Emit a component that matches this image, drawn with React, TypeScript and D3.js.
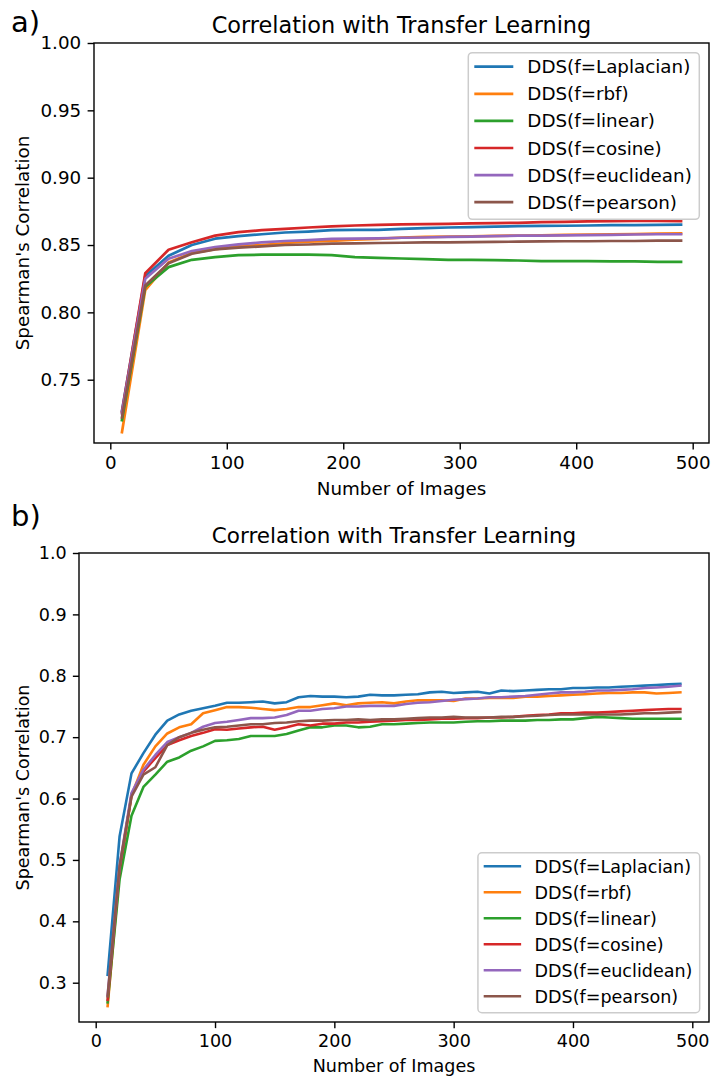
import React, { useEffect, useRef } from 'react';
import * as d3 from 'd3';

const seriesNames = [
  'DDS(f=Laplacian)',
  'DDS(f=rbf)',
  'DDS(f=linear)',
  'DDS(f=cosine)',
  'DDS(f=euclidean)',
  'DDS(f=pearson)',
];
const colors = ['#1f77b4', '#ff7f0e', '#2ca02c', '#d62728', '#9467bd', '#8c564b'];

// panel a) every 20 images
const imagesA = [10, 30, 50, 70, 90, 110, 130, 150, 170, 190, 210, 230, 250, 270, 290, 310, 330, 350, 370, 390, 410, 430, 450, 470, 490];
const laplacianA = [0.727, 0.827, 0.842, 0.850, 0.8547, 0.8566, 0.858, 0.8593, 0.860, 0.861, 0.8613, 0.8613, 0.862, 0.8625, 0.863, 0.8633, 0.8636, 0.864, 0.8642, 0.8643, 0.8645, 0.8647, 0.8648, 0.865, 0.8651];
const rbfA = [0.711, 0.8165, 0.837, 0.844, 0.847, 0.849, 0.850, 0.8515, 0.8525, 0.853, 0.854, 0.8545, 0.8555, 0.856, 0.8562, 0.8565, 0.8568, 0.857, 0.8572, 0.8575, 0.8578, 0.858, 0.8582, 0.8584, 0.8586];
const linearA = [0.720, 0.819, 0.8336, 0.839, 0.841, 0.8425, 0.8428, 0.8429, 0.8428, 0.8425, 0.841, 0.8405, 0.840, 0.8395, 0.839, 0.839, 0.8388, 0.8385, 0.838, 0.838, 0.838, 0.8378, 0.8378, 0.8375, 0.8375];
const cosineA = [0.726, 0.829, 0.8465, 0.852, 0.857, 0.8596, 0.861, 0.862, 0.863, 0.8638, 0.8645, 0.865, 0.8653, 0.8655, 0.8657, 0.866, 0.8663, 0.8665, 0.867, 0.8672, 0.8675, 0.8677, 0.868, 0.868, 0.8678];
const euclideanA = [0.725, 0.825, 0.8398, 0.8455, 0.8485, 0.8505, 0.852, 0.853, 0.8537, 0.8545, 0.8548, 0.855, 0.8554, 0.8556, 0.856, 0.8563, 0.8566, 0.857, 0.857, 0.8572, 0.8574, 0.8576, 0.8578, 0.858, 0.858];
const pearsonA = [0.722, 0.820, 0.8365, 0.8435, 0.8467, 0.848, 0.849, 0.850, 0.8504, 0.851, 0.8512, 0.8515, 0.8517, 0.852, 0.852, 0.8522, 0.8523, 0.8525, 0.8527, 0.8528, 0.8528, 0.853, 0.853, 0.8532, 0.8532];

// panel b) every 10 images
const imagesB = [10, 20, 30, 40, 50, 60, 70, 80, 90, 100, 110, 120, 130, 140, 150, 160, 170, 180, 190, 200, 210, 220, 230, 240, 250, 260, 270, 280, 290, 300, 310, 320, 330, 340, 350, 360, 370, 380, 390, 400, 410, 420, 430, 440, 450, 460, 470, 480, 490];
const laplacianB = [0.313, 0.538, 0.641, 0.674, 0.704, 0.727, 0.737, 0.743, 0.747, 0.751, 0.756, 0.756, 0.757, 0.758, 0.755, 0.757, 0.765, 0.767, 0.766, 0.766, 0.765, 0.766, 0.769, 0.768, 0.768, 0.769, 0.770, 0.773, 0.774, 0.772, 0.773, 0.774, 0.771, 0.776, 0.775, 0.776, 0.777, 0.778, 0.778, 0.780, 0.780, 0.781, 0.781, 0.782, 0.783, 0.784, 0.785, 0.786, 0.787];
const rbfB = [0.262, 0.480, 0.605, 0.655, 0.685, 0.706, 0.716, 0.721, 0.739, 0.744, 0.749, 0.749, 0.748, 0.746, 0.744, 0.746, 0.749, 0.749, 0.752, 0.755, 0.752, 0.755, 0.756, 0.757, 0.755, 0.758, 0.760, 0.760, 0.760, 0.759, 0.763, 0.763, 0.764, 0.764, 0.764, 0.766, 0.766, 0.767, 0.768, 0.769, 0.770, 0.771, 0.772, 0.772, 0.773, 0.773, 0.771, 0.772, 0.773];
const linearB = [0.268, 0.468, 0.572, 0.619, 0.639, 0.660, 0.667, 0.678, 0.685, 0.694, 0.695, 0.697, 0.702, 0.702, 0.702, 0.705, 0.711, 0.716, 0.716, 0.719, 0.719, 0.716, 0.717, 0.721, 0.721, 0.722, 0.723, 0.724, 0.724, 0.724, 0.725, 0.726, 0.726, 0.727, 0.727, 0.727, 0.728, 0.728, 0.729, 0.729, 0.731, 0.733, 0.732, 0.731, 0.730, 0.730, 0.730, 0.730, 0.730];
const cosineB = [0.272, 0.485, 0.606, 0.644, 0.666, 0.687, 0.695, 0.702, 0.707, 0.713, 0.712, 0.714, 0.716, 0.717, 0.712, 0.716, 0.721, 0.719, 0.722, 0.722, 0.724, 0.724, 0.725, 0.726, 0.727, 0.728, 0.728, 0.729, 0.730, 0.730, 0.731, 0.731, 0.732, 0.732, 0.733, 0.735, 0.736, 0.737, 0.739, 0.739, 0.740, 0.740, 0.741, 0.742, 0.743, 0.744, 0.745, 0.746, 0.746];
const euclideanB = [0.280, 0.490, 0.609, 0.647, 0.671, 0.692, 0.700, 0.707, 0.717, 0.723, 0.725, 0.728, 0.731, 0.731, 0.732, 0.736, 0.743, 0.743, 0.746, 0.747, 0.750, 0.750, 0.751, 0.751, 0.751, 0.754, 0.756, 0.757, 0.759, 0.761, 0.762, 0.763, 0.765, 0.765, 0.766, 0.767, 0.769, 0.771, 0.773, 0.773, 0.774, 0.776, 0.776, 0.777, 0.778, 0.780, 0.781, 0.782, 0.784];
const pearsonB = [0.278, 0.490, 0.603, 0.639, 0.651, 0.687, 0.700, 0.707, 0.712, 0.716, 0.717, 0.719, 0.721, 0.721, 0.723, 0.724, 0.726, 0.727, 0.727, 0.728, 0.728, 0.729, 0.728, 0.729, 0.729, 0.730, 0.731, 0.732, 0.732, 0.733, 0.732, 0.732, 0.732, 0.733, 0.733, 0.734, 0.735, 0.736, 0.737, 0.737, 0.737, 0.737, 0.737, 0.737, 0.738, 0.739, 0.739, 0.740, 0.741];

const xTicks = [0, 100, 200, 300, 400, 500];
const yTicksA = [0.75, 0.8, 0.85, 0.9, 0.95, 1.0];
const yTicksB = [0.3, 0.4, 0.5, 0.6, 0.7, 0.8, 0.9, 1.0];

const FONT = 'DejaVu Sans, sans-serif';

interface PanelCfg {
  tag: string;
  tagY: number;
  k: number; // size scale of this panel's figure
  left: number;
  right: number;
  top: number;
  bottom: number;
  yDomain: [number, number];
  yTicks: number[];
  yFormat: string;
  xs: number[];
  series: number[][];
  legend: 'upper' | 'lower';
}

const drawPanel = (svg: d3.Selection<SVGSVGElement, unknown, null, undefined>, c: PanelCfg) => {
  const fs = 18.3 * c.k;
  const lineW = 2.7 * c.k;
  const tick = 6.4 * c.k;
  const x = d3.scaleLinear().domain([-14, 514]).range([c.left, c.right]);
  const y = d3.scaleLinear().domain(c.yDomain).range([c.bottom, c.top]);
  const g = svg.append('g').attr('font-family', FONT);

  // lines
  const line = d3.line<number>()
    .x((_, i) => x(c.xs[i]))
    .y(d => y(d));
  c.series.forEach((vals, i) => {
    g.append('path')
      .datum(vals)
      .attr('d', line)
      .attr('fill', 'none')
      .attr('stroke', colors[i])
      .attr('stroke-width', lineW)
      .attr('stroke-linejoin', 'round')
      .attr('stroke-linecap', 'square');
  });

  // axes
  const xAxis = g.append('g')
    .attr('transform', `translate(0,${c.bottom})`)
    .call(d3.axisBottom(x).tickValues(xTicks).tickSize(tick).tickPadding(tick).tickFormat(d3.format('d')));
  const yAxis = g.append('g')
    .attr('transform', `translate(${c.left},0)`)
    .call(d3.axisLeft(y).tickValues(c.yTicks).tickSize(tick).tickPadding(tick).tickFormat(d3.format(c.yFormat)));
  [xAxis, yAxis].forEach(ax => {
    ax.attr('font-size', fs).attr('font-family', FONT);
    ax.select('.domain').remove();
    ax.selectAll('line').attr('stroke', '#000').attr('stroke-width', 1.4);
    ax.selectAll('text').attr('fill', '#000');
  });

  // frame
  g.append('rect')
    .attr('x', c.left)
    .attr('y', c.top)
    .attr('width', c.right - c.left)
    .attr('height', c.bottom - c.top)
    .attr('fill', 'none')
    .attr('stroke', '#000')
    .attr('stroke-width', 1.4);

  // texts
  g.append('text')
    .attr('x', (c.left + c.right) / 2)
    .attr('y', c.top - 10.5 * c.k)
    .attr('text-anchor', 'middle')
    .attr('font-size', 22.4 * c.k)
    .text('Correlation with Transfer Learning');
  g.append('text')
    .attr('x', (c.left + c.right) / 2)
    .attr('y', c.bottom + 52 * c.k)
    .attr('text-anchor', 'middle')
    .attr('font-size', fs)
    .text('Number of Images');
  g.append('text')
    .attr('transform', `translate(29,${(c.top + c.bottom) / 2}) rotate(-90)`)
    .attr('text-anchor', 'middle')
    .attr('font-size', fs)
    .text("Spearman's Correlation");
  g.append('text')
    .attr('x', 11)
    .attr('y', c.tagY)
    .attr('font-size', 29)
    .text(c.tag);

  // legend
  const pad = 9.7 * c.k;
  const lw = 231 * c.k;
  const lh = 166.6 * c.k;
  const rowH = 27.1 * c.k;
  const lx = c.right - pad - lw;
  const ly = c.legend === 'upper' ? c.top + pad : c.bottom - pad - lh;
  const leg = g.append('g').attr('transform', `translate(${lx},${ly})`);
  leg.append('rect')
    .attr('width', lw)
    .attr('height', lh)
    .attr('rx', 4)
    .attr('fill', '#fff')
    .attr('fill-opacity', 0.8)
    .attr('stroke', '#cccccc')
    .attr('stroke-width', 1.5);
  seriesNames.forEach((name, i) => {
    const ry = 14 * c.k + i * rowH;
    leg.append('line')
      .attr('x1', 6 * c.k).attr('x2', 45 * c.k)
      .attr('y1', ry).attr('y2', ry)
      .attr('stroke', colors[i])
      .attr('stroke-width', lineW);
    leg.append('text')
      .attr('x', 59 * c.k)
      .attr('y', ry + 6.6 * c.k)
      .attr('font-size', fs)
      .text(name);
  });
};

const App: React.FC = () => {
  const ref = useRef<SVGSVGElement>(null);

  useEffect(() => {
    const svg = d3.select(ref.current!);
    svg.selectAll('*').remove();

    drawPanel(svg, {
      tag: 'a)', tagY: 32, k: 1,
      left: 94, right: 709, top: 43, bottom: 443,
      yDomain: [0.703, 1.0], yTicks: yTicksA, yFormat: '.2f',
      xs: imagesA,
      series: [laplacianA, rbfA, linearA, cosineA, euclideanA, pearsonA],
      legend: 'upper',
    });

    drawPanel(svg, {
      tag: 'b)', tagY: 526, k: 0.96,
      left: 79, right: 709, top: 553, bottom: 1022,
      yDomain: [0.236, 1.0], yTicks: yTicksB, yFormat: '.1f',
      xs: imagesB,
      series: [laplacianB, rbfB, linearB, cosineB, euclideanB, pearsonB],
      legend: 'lower',
    });
  }, []);

  return (
    <svg
      ref={ref}
      width={711}
      height={1079}
      style={{ position: 'absolute', left: 0, top: 0, background: '#fff' }}
    />
  );
};

export default App;
